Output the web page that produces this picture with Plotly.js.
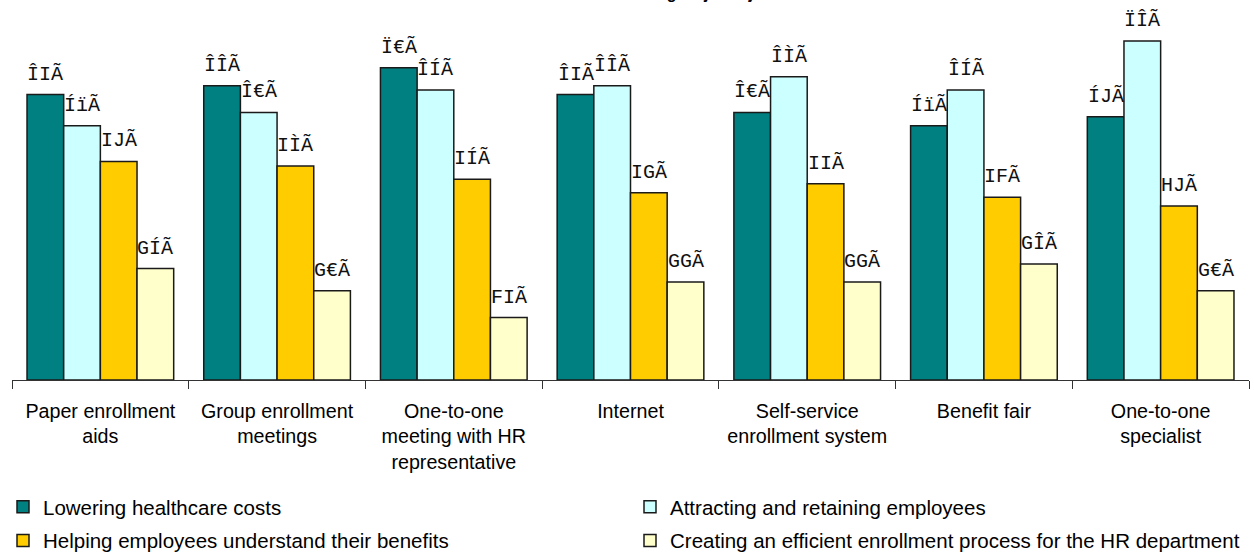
<!DOCTYPE html>
<html>
<head>
<meta charset="utf-8">
<script src="https://cdn.plot.ly/plotly-3.0.1.min.js"></script>
<style>html,body{margin:0;padding:0;background:#fff;}</style>
</head>
<body>
<div id="chart" style="width:1254px;height:553px;"></div>
<script>
// ---- data ----
const categories = [
  "Paper enrollment<br>aids",
  "Group enrollment<br>meetings",
  "One-to-one<br>meeting with HR<br>representative",
  "Internet",
  "Self-service<br>enrollment system",
  "Benefit fair",
  "One-to-one<br>specialist"
];
const seriesNames = [
  "Lowering healthcare costs",
  "Attracting and retaining employees",
  "Helping employees understand their benefits",
  "Creating an efficient enrollment process for the HR department"
];
const lowering   = [64, 66, 70, 64, 60, 57, 59];
const attracting = [57, 60, 65, 66, 68, 65, 76];
const helping    = [49, 48, 45, 42, 44, 41, 39];
const creating   = [25, 20, 14, 22, 22, 26, 20];
// data labels exactly as shown in the picture
const loweringLabels   = ["ÎIÃ", "ÎÎÃ", "Ï€Ã", "ÎIÃ", "Î€Ã", "ÍïÃ", "ÍJÃ"];
const attractingLabels = ["ÍïÃ", "Î€Ã", "ÎÍÃ", "ÎÎÃ", "ÎÌÃ", "ÎÍÃ", "ÏÎÃ"];
const helpingLabels    = ["IJÃ", "IÌÃ", "IÍÃ", "IGÃ", "IIÃ", "IFÃ", "HJÃ"];
const creatingLabels   = ["GÍÃ", "G€Ã", "FIÃ", "GGÃ", "GGÃ", "GÎÃ", "G€Ã"];
const colors = ["#008080", "#CCFFFF", "#FFCC00", "#FFFFCC"];
const legendOf = ["legend", "legend2", "legend", "legend2"];
const titleText = "Enrollment methods effective in meeting major objectives";

const values = [lowering, attracting, helping, creating];
const labels = [loweringLabels, attractingLabels, helpingLabels, creatingLabels];

const bargap = 0.17;
const nSeries = values.length;
const barW = (1 - bargap) / nSeries;

const traces = values.map((v, k) => ({
  type: "bar",
  name: seriesNames[k],
  legend: legendOf[k],
  legendgroup: "g" + k,
  x: categories,
  y: v,
  marker: {color: colors[k], line: {color: "#1a1a1a", width: 1.5}},
  hoverinfo: "skip"
}));

const annotations = [];
values.forEach((v, k) => {
  const off = -(1 - bargap) / 2 + barW * (k + 0.5);
  v.forEach((val, i) => {
    annotations.push({
      x: i + off, y: val, xref: "x", yref: "y",
      text: labels[k][i], showarrow: false,
      yanchor: "bottom", xanchor: "center", yshift: 7,
      font: {family: "Liberation Mono, monospace", size: 20, color: "#111"}
    });
  });
});
// chart title, cut off by the top edge as in the picture
annotations.push({
  text: "<b>" + titleText + "</b>", xref: "paper", yref: "paper",
  x: 0.465, y: 1, xanchor: "center", yanchor: "bottom", yshift: 16,
  showarrow: false,
  font: {family: "Liberation Sans, Arial, sans-serif", size: 16, color: "#000"}
});

const legendFont = {family: "Liberation Sans, Arial, sans-serif", size: 20.5, color: "#000"};
const legendBase = {
  orientation: "v", xref: "container", yref: "container",
  xanchor: "left", yanchor: "top", y: 1 - 487 / 553,
  traceorder: "grouped", tracegroupgap: 4,
  font: legendFont, bgcolor: "rgba(0,0,0,0)",
  itemclick: false, itemdoubleclick: false
};

const layout = {
  width: 1254, height: 553,
  paper_bgcolor: "#fff", plot_bgcolor: "#fff",
  margin: {l: 12, r: 5, t: 20, b: 173, autoexpand: false},
  barmode: "group", bargap: bargap, bargroupgap: 0,
  showlegend: true,
  xaxis: {
    type: "category", tickson: "boundaries", ticks: "outside", ticklen: 8,
    tickcolor: "#333", showline: true, linecolor: "#333", linewidth: 1,
    showgrid: false, zeroline: false, fixedrange: true, ticklabelstandoff: 13,
    automargin: false, tickangle: 0,
    tickfont: {family: "Liberation Sans, Arial, sans-serif", size: 19.7, color: "#000"}
  },
  yaxis: {
    range: [0, 360 / 4.46], showticklabels: false, showgrid: false,
    zeroline: false, showline: false, ticks: "", fixedrange: true, automargin: false
  },
  legend: Object.assign({}, legendBase, {x: 3 / 1254}),
  legend2: Object.assign({}, legendBase, {x: 630 / 1254}),
  annotations: annotations
};

Plotly.newPlot("chart", traces, layout, {displayModeBar: false, staticPlot: true});
</script>
</body>
</html>
